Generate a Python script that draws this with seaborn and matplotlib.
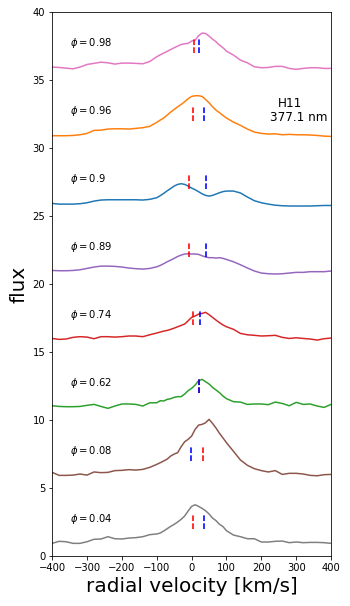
import numpy as np
import pandas as pd
import matplotlib
matplotlib.use("Agg")
import matplotlib.pyplot as plt
import seaborn as sns

# velocity grid [km/s]
velocity = [-400, -380, -360, -340, -320, -300, -280, -260, -240, -220, -200, -180,
            -160, -140, -120, -100, -90, -80, -70, -60, -50, -40, -30, -20, -10, 0,
            10, 20, 30, 40, 50, 60, 70, 80, 90, 100, 120, 140, 160, 180, 200, 220,
            240, 260, 280, 300, 320, 340, 360, 380, 400]

phases = ['0.04', '0.08', '0.62', '0.74', '0.89', '0.9', '0.96', '0.98']
offsets = [0, 5, 10, 15, 20, 25, 30, 35]
colors = ['tab:gray', 'tab:brown', 'tab:green', 'tab:red',
          'tab:purple', 'tab:blue', 'tab:orange', 'tab:pink']

# normalised line profiles (before offset)
flux_004 = [0.93, 1.08, 1.05, 0.93, 0.93, 1.05, 1.23, 1.25, 1.42, 1.27, 1.25, 1.32,
            1.35, 1.42, 1.57, 1.62, 1.69, 1.84, 2.01, 2.18, 2.33, 2.50, 2.70, 2.94, 3.31, 3.65,
            3.77, 3.65, 3.50, 3.33, 3.09, 2.79, 2.60, 2.33, 2.16, 1.86, 1.54, 1.42, 1.27, 1.27, 1.03, 1.03,
            1.08, 1.10, 0.98, 1.03, 0.98, 1.00, 1.00, 0.98, 0.93]
flux_008 = [1.15, 0.93, 0.93, 0.95, 1.03, 0.95, 1.18, 1.13, 1.15, 1.28, 1.30, 1.35,
            1.32, 1.37, 1.52, 1.74, 1.86, 1.99, 2.13, 2.35, 2.50, 2.60, 3.04, 3.40, 3.58, 3.82,
            4.31, 4.63, 4.68, 4.80, 5.05, 4.75, 4.41, 4.02, 3.68, 3.33, 2.70, 2.06, 1.67, 1.42, 1.28, 1.18,
            1.28, 1.00, 1.08, 1.08, 1.03, 0.93, 0.90, 0.98, 1.00]
flux_062 = [1.05, 1.00, 0.98, 0.98, 1.00, 1.08, 1.15, 1.00, 0.86, 1.03, 1.18, 1.18,
            1.15, 1.03, 1.27, 1.27, 1.42, 1.40, 1.52, 1.57, 1.67, 1.72, 1.72, 1.91, 2.16, 2.33,
            2.57, 2.89, 2.99, 2.82, 2.65, 2.40, 2.21, 2.01, 1.76, 1.57, 1.35, 1.32, 1.15, 1.18, 1.18, 1.13,
            1.32, 1.22, 1.05, 1.30, 1.15, 1.18, 1.03, 0.93, 1.15]
flux_074 = [1.00, 0.93, 0.96, 1.08, 1.13, 1.10, 0.98, 1.13, 1.13, 1.10, 1.13, 1.18,
            1.18, 1.13, 1.27, 1.40, 1.47, 1.54, 1.59, 1.67, 1.76, 1.86, 1.96, 2.06, 2.30, 2.55,
            2.65, 2.79, 2.84, 2.92, 2.75, 2.55, 2.35, 2.16, 1.99, 1.86, 1.67, 1.37, 1.27, 1.23, 1.18, 1.20,
            1.23, 1.08, 1.00, 1.05, 1.00, 0.96, 0.88, 0.98, 1.03]
flux_089 = [1.00, 0.98, 0.98, 1.00, 1.05, 1.15, 1.25, 1.32, 1.32, 1.30, 1.25, 1.18,
            1.13, 1.10, 1.15, 1.27, 1.37, 1.50, 1.64, 1.76, 1.89, 2.03, 2.13, 2.21, 2.23, 2.21,
            2.21, 2.18, 2.08, 1.99, 1.94, 1.94, 1.91, 1.94, 1.89, 1.81, 1.64, 1.42, 1.18, 0.96, 0.81, 0.76,
            0.74, 0.76, 0.81, 0.86, 0.86, 0.91, 0.91, 0.91, 0.96]
flux_090 = [0.93, 0.88, 0.88, 0.88, 0.91, 0.98, 1.10, 1.18, 1.20, 1.20, 1.20, 1.20,
            1.20, 1.18, 1.23, 1.35, 1.50, 1.67, 1.86, 2.03, 2.21, 2.33, 2.38, 2.33, 2.21, 2.06,
            1.94, 1.79, 1.64, 1.52, 1.47, 1.52, 1.62, 1.72, 1.80, 1.84, 1.84, 1.70, 1.40, 1.13, 0.98, 0.88,
            0.80, 0.76, 0.74, 0.74, 0.74, 0.74, 0.76, 0.78, 0.78]
flux_096 = [0.91, 0.91, 0.91, 0.93, 0.98, 1.08, 1.30, 1.32, 1.40, 1.42, 1.42, 1.40,
            1.45, 1.50, 1.60, 1.89, 2.06, 2.21, 2.43, 2.65, 2.84, 3.04, 3.21, 3.41, 3.63, 3.80,
            3.85, 3.85, 3.80, 3.58, 3.33, 3.04, 2.79, 2.60, 2.40, 2.21, 1.91, 1.67, 1.40, 1.18, 1.08, 1.03,
            1.05, 0.98, 1.01, 0.98, 0.98, 0.96, 0.93, 0.88, 0.86]
flux_098 = [0.96, 0.93, 0.88, 0.83, 0.96, 1.15, 1.23, 1.32, 1.27, 1.18, 1.25, 1.25,
            1.23, 1.20, 1.37, 1.72, 1.86, 1.99, 2.11, 2.25, 2.38, 2.50, 2.62, 2.67, 2.70, 2.87,
            2.94, 3.26, 3.46, 3.43, 3.24, 3.01, 2.82, 2.57, 2.38, 2.13, 1.84, 1.47, 1.27, 0.98, 0.91, 0.93,
            1.01, 1.01, 0.86, 0.79, 0.86, 0.91, 0.91, 0.86, 0.86]
profiles = [flux_004, flux_008, flux_062, flux_074, flux_089, flux_090, flux_096, flux_098]

# velocity markers [km/s]
v_red = [5, 33, 21, 5, -7, -7, 5, 7]
v_blue = [36, -1, 21, 25, 41, 41, 36, 22]

fig, ax = plt.subplots(figsize=(350 / 72, 606 / 72), dpi=72)
fig.subplots_adjust(left=0.149, right=0.946, top=0.980, bottom=0.0825)

for phase, off, col, prof, vr, vb in zip(phases, offsets, colors, profiles, v_red, v_blue):
    df = pd.DataFrame({'v': velocity, 'flux': np.array(prof) + off})
    sns.lineplot(data=df, x='v', y='flux', color=col, linewidth=1.5, ax=ax)
    ax.plot([vr, vr], [off + 2, off + 3], color='r', alpha=0.8, lw=2, dashes=(2.85, 1.1))
    ax.plot([vb, vb], [off + 2, off + 3], color='b', alpha=0.8, lw=2, dashes=(2.85, 1.1))
    ax.text(-350, off + 2.5, r'$\phi=%s$' % phase, fontsize=10)

ax.text(281, 33.05, 'H11', fontsize=12, ha='center')
ax.text(307, 32.0, '377.1 nm', fontsize=12, ha='center')

ax.set_xlim(-400, 400)
ax.set_ylim(0, 40)
ax.set_xlabel('radial velocity [km/s]', fontsize=20)
ax.set_ylabel('flux', fontsize=20)

fig.savefig('out.png', dpi=72)
